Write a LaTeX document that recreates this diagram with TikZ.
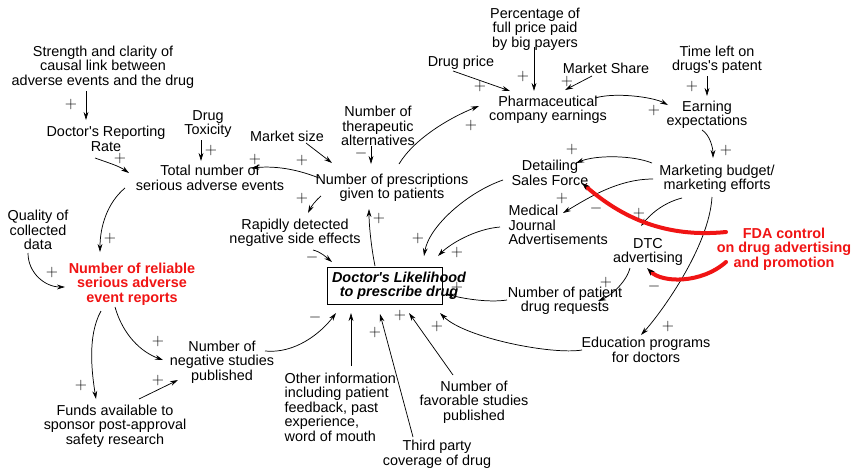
\documentclass[tikz,border=0pt]{standalone}
\usepackage{fontspec}
\setmainfont{Liberation Sans}[Ligatures=TeXOff]
\usetikzlibrary{arrows.meta,calc}

\begin{document}
\begin{tikzpicture}[x=0.75pt,y=0.75pt,yscale=-1,xscale=1,
	var/.style={align=center,inner sep=1pt,font=\fontsize{10.8}{10.9}\selectfont},
	hot/.style={var,text={rgb, 255:red, 240; green, 20; blue, 20 },font=\fontsize{10.8}{10.9}\selectfont\bfseries},
	sign/.style={inner sep=0pt,font=\fontsize{11.5}{12}\selectfont},
	link/.style={-{Stealth[length=6pt,width=3.6pt]},line width=0.55pt},
	fdalink/.style={-{Stealth[black,length=6pt,width=4pt,line width=0.4pt]},color={rgb, 255:red, 240; green, 20; blue, 20 },line width=3pt,line cap=round}]
	\useasboundingbox (0,0) rectangle (856,469);
	
	% Variables
	\node[var] (strength) at (103,67) {Strength and clarity of\\causal link between\\adverse events and the drug};
	\node[var] (reporting) at (106,139) {Doctor's Reporting\\Rate};
	\node[var] (toxicity) at (208,124) {Drug\\Toxicity};
	\node[var] (totalAE) at (210,178) {Total number of\\serious adverse events};
	\node[var] (marketsize) at (287,136) {Market size};
	\node[var] (therap) at (378,126) {Number of\\therapeutic\\alternatives};
	\node[var] (prescr) at (392,188) {Number of prescriptions\\given to patients};
	\node[var] (rapid) at (295,233) {Rapidly detected\\negative side effects};
	\node[var] (quality) at (38,230) {Quality of\\collected\\data};
	\node[hot] (reliable) at (132,284) {Number of reliable\\serious adverse\\event reports};
	\node[draw,line width=0.6pt,inner sep=0pt,minimum width=86.25pt,minimum height=27.75pt] (doctor) at (384.5,285.5) {};
	\node[var,font=\fontsize{10.8}{10.9}\selectfont\bfseries\itshape] (doctortext) at (399,286) {Doctor's Likelihood\\to prescribe drug};
	\node[var] (drugprice) at (461,63) {Drug price};
	\node[var] (pct) at (535,29) {Percentage of\\full price paid\\by big payers};
	\node[var] (mshare) at (606,68) {Market Share};
	\node[var] (pharma) at (548,110) {Pharmaceutical\\company earnings};
	\node[var] (timeleft) at (717,60) {Time left on\\drugs's patent};
	\node[var] (earning) at (707,115) {Earning\\expectations};
	\node[var] (detailing) at (550,173) {Detailing\\Sales Force};
	\node[var] (marketing) at (717,179) {Marketing budget/\\marketing efforts};
	\node[var,align=left,anchor=west] (journal) at (507,225) {Medical\\Journal\\Advertisements};
	\node[var] (dtc) at (648,252) {DTC\\advertising};
	\node[hot] (fda) at (784,249) {FDA control\\on drug advertising\\and promotion};
	\node[var] (patientreq) at (565,301) {Number of patient\\drug requests};
	\node[var] (education) at (646,350) {Education programs\\for doctors};
	\node[var] (negstudies) at (222,362) {Number of\\negative studies\\published};
	\node[var] (funds) at (115,426) {Funds available to\\sponsor post-approval\\safety research};
	\node[var,align=left,anchor=west] (other) at (283,407) {Other information\\including patient\\feedback, past\\experience,\\word of mouth};
	\node[var] (thirdparty) at (437,454) {Third party\\coverage of drug};
	\node[var] (favorable) at (474,402) {Number of\\favorable studies\\published};
	
	% Links, left part
	\draw[link] ($(strength)+(-17,24)$) -- ($(reporting)+(-20,-19)$);
	\draw[link] ($(reporting)+(-11,19)$) .. controls +(14,5) and +(-10,-7) .. ($(totalAE)+(-81,-5)$);
	\draw[link] ($(toxicity)+(-7,16)$) -- ($(totalAE)+(-9,-17)$);
	\draw[link] ($(prescr)+(-73,-10)$) .. controls +(-25,-10) and +(22,-2) .. ($(totalAE)+(41,-10)$);
	\draw[link] ($(marketsize)+(19,7)$) -- ($(prescr)+(-60,-25)$);
	\draw[link] ($(therap)+(-7,20)$) -- ($(prescr)+(-21,-24)$);
	\draw[link] ($(prescr)+(7,-24)$) .. controls +(15,-25) and +(-30,12) .. ($(pharma)+(-69,-4)$);
	\draw[link] ($(prescr)+(-71,8)$) .. controls +(-6,5) and +(3,-6) .. ($(rapid)+(13,-20)$);
	\draw[link] ($(rapid)+(18,17)$) .. controls +(8,2) and +(-6,-5) .. ($(doctor)+(-52.5,-23.5)$);
	\draw[link] ($(doctor)+(-9.5,-19.5)$) .. controls +(-4,-20) and +(0,15) .. ($(prescr)+(-23,21)$);
	\draw[link] ($(totalAE)+(-85,10)$) .. controls +(-18,15) and +(0,-25) .. ($(reliable)+(-32,-32)$);
	\draw[link] ($(quality)+(-10,23)$) .. controls +(0,20) and +(-20,0) .. ($(reliable)+(-67,3)$);
	\draw[link] ($(reliable)+(-31,27)$) .. controls +(-14,25) and +(-4,-25) .. ($(funds)+(-19,-27)$);
	\draw[link] ($(reliable)+(-17,23)$) .. controls +(8,28) and +(-22,-8) .. ($(negstudies)+(-59,-2)$);
	\draw[link] ($(funds)+(24,-27)$) -- ($(negstudies)+(-44,18)$);
	\draw[link] ($(negstudies)+(43,-11)$) .. controls +(30,3) and +(-15,20) .. ($(doctor)+(-48.5,27.5)$);
	\draw[link] ($(other.west)+(68,-41)$) -- ($(doctor)+(-33.5,27.5)$);
	\draw[link] ($(thirdparty)+(-24,-17)$) -- ($(doctor)+(-4.5,28.5)$);
	\draw[link] ($(favorable)+(-21,-27)$) -- ($(doctor)+(24.5,27.5)$);
	
	% Links, right part
	\draw[link] ($(education)+(-64,0)$) .. controls +(-30,5) and +(25,25) .. ($(doctor)+(55.5,27.5)$);
	\draw[link] ($(patientreq)+(-58,-1)$) .. controls +(-20,3) and +(15,4) .. ($(doctor)+(61.5,8.5)$);
	\draw[link] ($(detailing)+(-47,7)$) .. controls +(-35,12) and +(5,-30) .. ($(doctor)+(39.5,-29.5)$);
	\draw[link] ($(journal.west)+(-7,2)$) .. controls +(-25,2) and +(12,-12) .. ($(doctor)+(53.5,-29.5)$);
	\draw[link] ($(dtc)+(-18,16)$) .. controls +(-4,15) and +(12,-5) .. ($(patientreq)+(33,0)$);
	\draw[link] ($(marketing)+(-65,-16)$) .. controls +(-20,-8) and +(20,-8) .. ($(detailing)+(26,-10)$);
	\draw[link] ($(marketing)+(-64,0)$) .. controls +(-35,0) and +(25,-15) .. ($(journal.west)+(56,-12)$);
	\draw[link] ($(marketing)+(-35,19)$) .. controls +(-20,5) and +(8,-10) .. ($(dtc)+(-7,-26)$);
	\draw[link] ($(marketing)+(-5,18)$) .. controls +(-3,50) and +(20,-22) .. ($(education)+(-5,-15)$);
	\draw[link] ($(earning)+(-5,15)$) .. controls +(8,5) and +(0,-10) .. ($(marketing)+(-4,-21)$);
	\draw[link] ($(pharma)+(47,-12)$) .. controls +(20,-6) and +(-15,-8) .. ($(earning)+(-39,-10)$);
	\draw[link] ($(timeleft)+(-10,16)$) -- ($(earning)+(0,-19)$);
	\draw[link] ($(drugprice)+(-8,8)$) -- ($(pharma)+(-38,-19)$);
	\draw[link] ($(pct)+(-1,18)$) -- ($(pharma)+(-14,-19)$);
	\draw[link] ($(mshare)+(-14,8)$) -- ($(pharma)+(17,-20)$);
	
	% FDA control
	\draw[fdalink] ($(fda)+(-58,-17)$) .. controls +(-60,6) and +(40,35) .. ($(detailing)+(32,10)$);
	\draw[fdalink] ($(fda)+(-58,13)$) .. controls +(-25,22) and +(15,15) .. ($(dtc)+(-1,16)$);
	
	% Polarities
	\node[sign] (s1) at (71,104) {$+$};
	\node[sign] (s2) at (120,158) {$+$};
	\node[sign] (s3) at (211,150) {$+$};
	\node[sign] (s4) at (255,159) {$+$};
	\node[sign] (s5) at (302,160) {$+$};
	\node[sign] (s6) at (361,153) {$-$};
	\node[sign] (s7) at (471,125) {$+$};
	\node[sign] (s8) at (302,198) {$+$};
	\node[sign] (s9) at (312,257) {$-$};
	\node[sign] (s10) at (379,218) {$+$};
	\node[sign] (s11) at (110,238) {$+$};
	\node[sign] (s12) at (52,272) {$+$};
	\node[sign] (s13) at (81,385) {$+$};
	\node[sign] (s14) at (158,341) {$+$};
	\node[sign] (s15) at (158,380) {$+$};
	\node[sign] (s16) at (315,317) {$-$};
	\node[sign] (s17) at (375,332) {$+$};
	\node[sign] (s18) at (400,315) {$+$};
	\node[sign] (s19) at (437,326) {$+$};
	\node[sign] (s20) at (457,287) {$+$};
	\node[sign] (s21) at (418,238) {$+$};
	\node[sign] (s22) at (457,252) {$+$};
	\node[sign] (s23) at (606,282) {$+$};
	\node[sign] (s24) at (572,149) {$+$};
	\node[sign] (s25) at (562,198) {$+$};
	\node[sign] (s26) at (639,213) {$+$};
	\node[sign] (s27) at (668,326) {$+$};
	\node[sign] (s28) at (726,150) {$+$};
	\node[sign] (s29) at (654,110) {$+$};
	\node[sign] (s30) at (692,86) {$+$};
	\node[sign] (s31) at (480,86) {$+$};
	\node[sign] (s32) at (523,76) {$+$};
	\node[sign] (s33) at (567,81) {$+$};
	\node[sign] (s34) at (596,208) {$-$};
	\node[sign] (s35) at (654,286) {$-$};
	
\end{tikzpicture}
\end{document}
